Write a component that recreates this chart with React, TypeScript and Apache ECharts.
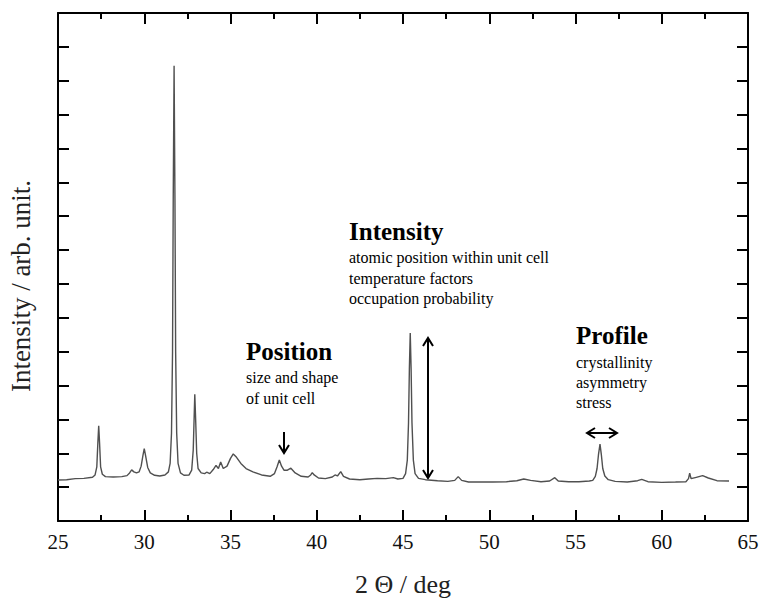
import React, { useEffect, useRef } from "react";
import * as echarts from "echarts";

// 2θ (deg) and intensity (arb. unit)
const twoTheta: number[] = [
  25.0, 25.5, 26.0, 26.5, 27.0, 27.15, 27.25, 27.31, 27.36, 27.41, 27.47, 27.57, 27.75, 28.2, 28.7, 29.0, 29.15, 29.27, 29.4, 29.55,
  29.7, 29.82, 29.92, 30.0, 30.08, 30.2, 30.35, 30.6, 30.9, 31.2, 31.4, 31.5, 31.58, 31.64, 31.68, 31.73, 31.78, 31.82, 31.88, 31.96,
  32.1, 32.3, 32.6, 32.75, 32.84, 32.9, 32.93, 32.98, 33.04, 33.12, 33.3, 33.5, 33.62, 33.8, 34.0, 34.16, 34.3, 34.43, 34.58, 34.8,
  35.0, 35.16, 35.35, 35.6, 35.9, 36.3, 36.8, 37.3, 37.55, 37.7, 37.83, 37.96, 38.1, 38.3, 38.5, 38.75, 39.1, 39.5, 39.65, 39.74,
  39.85, 40.1, 40.5, 40.9, 41.06, 41.2, 41.39, 41.55, 41.9, 42.5, 43.0, 43.5, 44.0, 44.44, 44.7, 45.0, 45.15, 45.25, 45.32, 45.37,
  45.42, 45.47, 45.52, 45.6, 45.7, 45.9, 46.3, 47.0, 47.6, 48.0, 48.2, 48.4, 48.8, 49.5, 50.2, 51.0, 51.6, 52.0, 52.4, 53.0,
  53.5, 53.8, 54.0, 54.6, 55.2, 55.8, 56.0, 56.15, 56.25, 56.33, 56.42, 56.5, 56.58, 56.7, 56.9, 57.3, 58.0, 58.6, 58.84, 59.2,
  60.0, 60.8, 61.4, 61.55, 61.62, 61.7, 62.0, 62.37, 62.7, 63.2, 63.9,
];
const intensity: number[] = [
  1.21, 1.22, 1.25, 1.26, 1.29, 1.36, 1.6, 2.3, 2.81, 2.3, 1.6, 1.38, 1.31, 1.3, 1.31, 1.34, 1.42, 1.51, 1.45, 1.42,
  1.45, 1.62, 1.92, 2.14, 1.92, 1.58, 1.42, 1.35, 1.33, 1.36, 1.45, 1.7, 2.6, 5.0, 9.5, 13.44, 9.5, 5.0, 2.6, 1.7,
  1.42, 1.35, 1.36, 1.5, 2.1, 3.2, 3.74, 3.0, 2.0, 1.55, 1.42, 1.4, 1.44, 1.4, 1.52, 1.64, 1.55, 1.74, 1.55, 1.62,
  1.85, 1.98, 1.88, 1.7, 1.55, 1.45, 1.36, 1.32, 1.4, 1.6, 1.8, 1.62, 1.5, 1.5, 1.56, 1.42, 1.32, 1.3, 1.36, 1.43,
  1.36, 1.27, 1.25, 1.3, 1.36, 1.33, 1.46, 1.32, 1.24, 1.22, 1.24, 1.26, 1.25, 1.28, 1.24, 1.26, 1.4, 1.8, 2.9, 4.5,
  5.55, 4.5, 2.9, 1.8, 1.4, 1.26, 1.22, 1.19, 1.17, 1.2, 1.31, 1.2, 1.15, 1.15, 1.15, 1.16, 1.19, 1.24, 1.2, 1.16,
  1.18, 1.28, 1.18, 1.16, 1.16, 1.18, 1.2, 1.32, 1.55, 1.95, 2.27, 1.95, 1.55, 1.33, 1.22, 1.17, 1.15, 1.19, 1.23, 1.16,
  1.14, 1.15, 1.16, 1.25, 1.41, 1.25, 1.29, 1.34, 1.27, 1.19, 1.18,
];

const xTicks = [25, 30, 35, 40, 45, 50, 55, 60, 65];
const xName = "2 Θ / deg";
const yName = "Intensity / arb. unit.";

const SERIF = "'Liberation Serif', 'Times New Roman', serif";

function arrowHead(x: number, y: number, dx: number, dy: number) {
  // open V-shaped head at (x,y) pointing in direction (dx,dy)
  const L = 8, W = 5;
  const px = -dy, py = dx;
  return {
    type: "polyline",
    shape: {
      points: [
        [x - dx * L + px * W, y - dy * L + py * W],
        [x, y],
        [x - dx * L - px * W, y - dy * L - py * W],
      ],
    },
    style: { stroke: "#000", lineWidth: 2, fill: "none" },
  };
}

function line(x1: number, y1: number, x2: number, y2: number) {
  return {
    type: "line",
    shape: { x1, y1, x2, y2 },
    style: { stroke: "#000", lineWidth: 2 },
  };
}

function label(text: string, x: number, y: number, bold: boolean) {
  return {
    type: "text",
    x,
    y,
    style: {
      text,
      fontFamily: SERIF,
      fontSize: bold ? 25 : 16,
      fontWeight: bold ? "bold" : "normal",
      fill: "#000",
      verticalAlign: "middle",
      align: "left",
    },
  };
}

export default function App() {
  const ref = useRef<HTMLDivElement>(null);
  useEffect(() => {
    if (!ref.current) return;
    const chart = echarts.init(ref.current, undefined, { renderer: "svg" });
    const data = twoTheta.map((x, i) => [x, intensity[i]]);
    const axisLine = { show: true, onZero: false, lineStyle: { color: "#000", width: 2 } };
    const xAxisBase = {
      type: "value",
      min: 25,
      max: 65,
      interval: 5,
      axisLine,
      splitLine: { show: false },
      axisTick: { show: true, inside: true, length: 11, lineStyle: { color: "#000", width: 2 } },
      minorTick: { show: true, splitNumber: 2, length: 6, lineStyle: { color: "#000", width: 2 } },
    };
    const yAxisBase = {
      type: "value",
      min: 0,
      max: 15,
      interval: 1,
      axisLine,
      splitLine: { show: false },
      axisLabel: { show: false },
      axisTick: { show: true, inside: true, length: 11, lineStyle: { color: "#000", width: 2 } },
    };
    chart.setOption({
      animation: false,
      backgroundColor: "#fff",
      grid: { left: 58, right: 13, top: 13, bottom: 79, containLabel: false, outerBoundsMode: "none" },
      xAxis: [
        {
          ...xAxisBase,
          position: "bottom",
          name: xName,
          nameLocation: "middle",
          nameGap: 50,
          nameTextStyle: { fontFamily: SERIF, fontSize: 26, color: "#222" },
          axisLabel: {
            show: true,
            margin: 10,
            fontFamily: SERIF,
            fontSize: 21,
            color: "#111",
            customValues: xTicks,
            formatter: (v: number) => String(v),
          },
        },
        { ...xAxisBase, position: "top", axisLabel: { show: false } },
      ],
      yAxis: [
        {
          ...yAxisBase,
          position: "left",
          name: yName,
          nameLocation: "middle",
          nameGap: 24,
          nameTextStyle: { fontFamily: SERIF, fontSize: 27, color: "#222", padding: [0, 38, 0, 0] },
        },
        { ...yAxisBase, position: "right" },
      ],
      series: [
        {
          type: "line",
          data,
          showSymbol: false,
          symbol: "none",
          lineStyle: { color: "#505050", width: 1.4 },
          xAxisIndex: 0,
          yAxisIndex: 0,
        },
      ],
      graphic: [
        label("Intensity", 349, 231, true),
        label("atomic position within unit cell", 349, 257, false),
        label("temperature factors", 349, 278, false),
        label("occupation probability", 349, 298, false),
        label("Position", 246, 351, true),
        label("size and shape", 246, 377, false),
        label("of unit cell", 246, 398, false),
        label("Profile", 576, 335, true),
        label("crystallinity", 576, 362, false),
        label("asymmetry", 576, 382, false),
        label("stress", 576, 402, false),
        line(284, 432, 284, 453),
        arrowHead(284, 453, 0, 1),
        line(428, 338, 428, 478),
        arrowHead(428, 338, 0, -1),
        arrowHead(428, 478, 0, 1),
        line(587, 433, 617, 433),
        arrowHead(587, 433, -1, 0),
        arrowHead(617, 433, 1, 0),
      ],
    });
    return () => chart.dispose();
  }, []);
  return <div ref={ref} style={{ width: 761, height: 600, position: "absolute", left: 0, top: 0 }} />;
}
